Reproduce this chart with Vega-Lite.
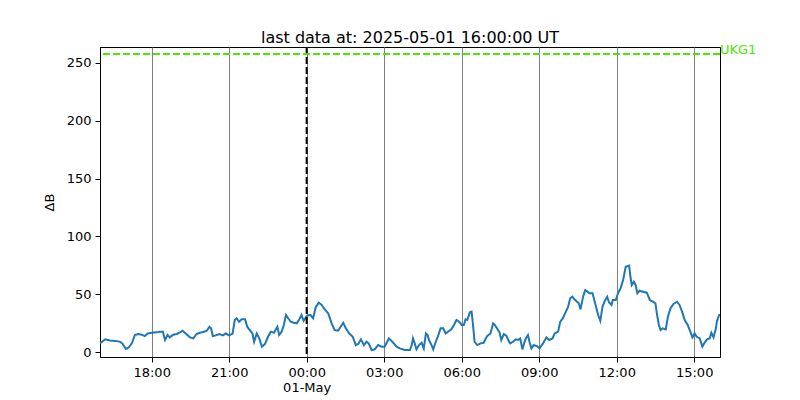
{
  "$schema": "https://vega.github.io/schema/vega-lite/v6.json",
  "width": 620,
  "height": 310,
  "autosize": {"type": "none"},
  "padding": {"left": 100, "top": 47, "right": 80, "bottom": 43},
  "config": {
    "font": "DejaVu Sans",
    "view": {"stroke": "black"},
    "axis": {"domainColor": "black", "tickColor": "black", "labelColor": "black", "titleColor": "black", "labelFontSize": 13, "titleFontSize": 13, "titleFontWeight": "normal", "tickSize": 5, "labelPadding": 4}
  },
  "title": {"text": "last data at: 2025-05-01 16:00:00 UT", "fontSize": 16, "fontWeight": "normal", "color": "black", "offset": 6, "dy": 8},
  "layer": [
    {
      "data": {"values": [
      {"t":"2025-04-30 16:00","v":8},
      {"t":"2025-04-30 16:02","v":8},
      {"t":"2025-04-30 16:12","v":11},
      {"t":"2025-04-30 16:23","v":10},
      {"t":"2025-04-30 16:35","v":9.5},
      {"t":"2025-04-30 16:46","v":9},
      {"t":"2025-04-30 16:52","v":7.5},
      {"t":"2025-04-30 17:00","v":2.6},
      {"t":"2025-04-30 17:06","v":3.7},
      {"t":"2025-04-30 17:14","v":7.5},
      {"t":"2025-04-30 17:21","v":14.7},
      {"t":"2025-04-30 17:29","v":15.6},
      {"t":"2025-04-30 17:37","v":15},
      {"t":"2025-04-30 17:44","v":13.8},
      {"t":"2025-04-30 17:51","v":16},
      {"t":"2025-04-30 18:00","v":16.7},
      {"t":"2025-04-30 18:12","v":17},
      {"t":"2025-04-30 18:19","v":17.6},
      {"t":"2025-04-30 18:26","v":17.6},
      {"t":"2025-04-30 18:31","v":10.4},
      {"t":"2025-04-30 18:37","v":14.7},
      {"t":"2025-04-30 18:42","v":12.7},
      {"t":"2025-04-30 18:50","v":15},
      {"t":"2025-04-30 18:58","v":15.6},
      {"t":"2025-04-30 19:06","v":17},
      {"t":"2025-04-30 19:12","v":18.4},
      {"t":"2025-04-30 19:19","v":16},
      {"t":"2025-04-30 19:29","v":12.7},
      {"t":"2025-04-30 19:37","v":11.8},
      {"t":"2025-04-30 19:44","v":15.6},
      {"t":"2025-04-30 19:52","v":16.7},
      {"t":"2025-04-30 20:00","v":17.3},
      {"t":"2025-04-30 20:08","v":18.4},
      {"t":"2025-04-30 20:14","v":21.9},
      {"t":"2025-04-30 20:18","v":20.5},
      {"t":"2025-04-30 20:22","v":13.8},
      {"t":"2025-04-30 20:29","v":14.4},
      {"t":"2025-04-30 20:37","v":15.6},
      {"t":"2025-04-30 20:45","v":14.4},
      {"t":"2025-04-30 20:52","v":16},
      {"t":"2025-04-30 21:00","v":14.4},
      {"t":"2025-04-30 21:08","v":16},
      {"t":"2025-04-30 21:13","v":27.7},
      {"t":"2025-04-30 21:17","v":29.2},
      {"t":"2025-04-30 21:23","v":26.2},
      {"t":"2025-04-30 21:29","v":28.3},
      {"t":"2025-04-30 21:37","v":28.3},
      {"t":"2025-04-30 21:42","v":21.9},
      {"t":"2025-04-30 21:48","v":19},
      {"t":"2025-04-30 21:54","v":16},
      {"t":"2025-04-30 21:58","v":8.9},
      {"t":"2025-04-30 22:04","v":16},
      {"t":"2025-04-30 22:10","v":11.8},
      {"t":"2025-04-30 22:16","v":4.6},
      {"t":"2025-04-30 22:23","v":6.9},
      {"t":"2025-04-30 22:31","v":13.8},
      {"t":"2025-04-30 22:37","v":17.6},
      {"t":"2025-04-30 22:44","v":16.7},
      {"t":"2025-04-30 22:52","v":21.9},
      {"t":"2025-04-30 22:56","v":14.7},
      {"t":"2025-04-30 23:02","v":17.6},
      {"t":"2025-04-30 23:07","v":23.4},
      {"t":"2025-04-30 23:12","v":32},
      {"t":"2025-04-30 23:17","v":29.2},
      {"t":"2025-04-30 23:23","v":26.2},
      {"t":"2025-04-30 23:30","v":25.3},
      {"t":"2025-04-30 23:37","v":24.8},
      {"t":"2025-04-30 23:43","v":28.3},
      {"t":"2025-04-30 23:48","v":32},
      {"t":"2025-04-30 23:53","v":27},
      {"t":"2025-05-01 00:00","v":31.1},
      {"t":"2025-05-01 00:06","v":32},
      {"t":"2025-05-01 00:09","v":32},
      {"t":"2025-05-01 00:15","v":29.2},
      {"t":"2025-05-01 00:21","v":38.7},
      {"t":"2025-05-01 00:28","v":42.6},
      {"t":"2025-05-01 00:35","v":40.7},
      {"t":"2025-05-01 00:42","v":36.9},
      {"t":"2025-05-01 00:50","v":33.5},
      {"t":"2025-05-01 00:58","v":24.8},
      {"t":"2025-05-01 01:05","v":19},
      {"t":"2025-05-01 01:13","v":18.4},
      {"t":"2025-05-01 01:19","v":21.9},
      {"t":"2025-05-01 01:25","v":25.3},
      {"t":"2025-05-01 01:31","v":20.5},
      {"t":"2025-05-01 01:39","v":16},
      {"t":"2025-05-01 01:47","v":13.2},
      {"t":"2025-05-01 01:54","v":6},
      {"t":"2025-05-01 02:00","v":6.9},
      {"t":"2025-05-01 02:06","v":11},
      {"t":"2025-05-01 02:13","v":6},
      {"t":"2025-05-01 02:19","v":8.9},
      {"t":"2025-05-01 02:24","v":7.5},
      {"t":"2025-05-01 02:31","v":1.7},
      {"t":"2025-05-01 02:38","v":2.3},
      {"t":"2025-05-01 02:46","v":6},
      {"t":"2025-05-01 02:54","v":4.6},
      {"t":"2025-05-01 03:01","v":4.6},
      {"t":"2025-05-01 03:07","v":8.9},
      {"t":"2025-05-01 03:11","v":11.8},
      {"t":"2025-05-01 03:19","v":8.9},
      {"t":"2025-05-01 03:29","v":4.6},
      {"t":"2025-05-01 03:36","v":3.2},
      {"t":"2025-05-01 03:48","v":1.7},
      {"t":"2025-05-01 04:00","v":1.7},
      {"t":"2025-05-01 04:04","v":6},
      {"t":"2025-05-01 04:07","v":11.8},
      {"t":"2025-05-01 04:11","v":7.5},
      {"t":"2025-05-01 04:15","v":2.3},
      {"t":"2025-05-01 04:21","v":6},
      {"t":"2025-05-01 04:27","v":8},
      {"t":"2025-05-01 04:32","v":3.2},
      {"t":"2025-05-01 04:37","v":16},
      {"t":"2025-05-01 04:41","v":14.7},
      {"t":"2025-05-01 04:44","v":10.4},
      {"t":"2025-05-01 04:50","v":6},
      {"t":"2025-05-01 04:54","v":2.3},
      {"t":"2025-05-01 05:00","v":8.9},
      {"t":"2025-05-01 05:05","v":13.8},
      {"t":"2025-05-01 05:11","v":20.5},
      {"t":"2025-05-01 05:17","v":20.5},
      {"t":"2025-05-01 05:23","v":16},
      {"t":"2025-05-01 05:28","v":17.6},
      {"t":"2025-05-01 05:36","v":19.6},
      {"t":"2025-05-01 05:42","v":23.4},
      {"t":"2025-05-01 05:48","v":27.7},
      {"t":"2025-05-01 05:54","v":26.2},
      {"t":"2025-05-01 06:00","v":23.4},
      {"t":"2025-05-01 06:05","v":23.4},
      {"t":"2025-05-01 06:09","v":28.3},
      {"t":"2025-05-01 06:13","v":27.7},
      {"t":"2025-05-01 06:19","v":34.3},
      {"t":"2025-05-01 06:23","v":34.9},
      {"t":"2025-05-01 06:26","v":24.8},
      {"t":"2025-05-01 06:30","v":8.9},
      {"t":"2025-05-01 06:36","v":6},
      {"t":"2025-05-01 06:44","v":7.5},
      {"t":"2025-05-01 06:51","v":8},
      {"t":"2025-05-01 06:59","v":13.8},
      {"t":"2025-05-01 07:07","v":16},
      {"t":"2025-05-01 07:13","v":24.8},
      {"t":"2025-05-01 07:17","v":23.4},
      {"t":"2025-05-01 07:22","v":20.5},
      {"t":"2025-05-01 07:28","v":17},
      {"t":"2025-05-01 07:32","v":10.4},
      {"t":"2025-05-01 07:38","v":15.6},
      {"t":"2025-05-01 07:44","v":14},
      {"t":"2025-05-01 07:50","v":8.9},
      {"t":"2025-05-01 07:53","v":7.5},
      {"t":"2025-05-01 07:59","v":8.9},
      {"t":"2025-05-01 08:06","v":11},
      {"t":"2025-05-01 08:11","v":10.4},
      {"t":"2025-05-01 08:16","v":11.8},
      {"t":"2025-05-01 08:21","v":2.3},
      {"t":"2025-05-01 08:25","v":7.5},
      {"t":"2025-05-01 08:29","v":11.8},
      {"t":"2025-05-01 08:34","v":14.7},
      {"t":"2025-05-01 08:38","v":8},
      {"t":"2025-05-01 08:42","v":3.2},
      {"t":"2025-05-01 08:47","v":6},
      {"t":"2025-05-01 08:54","v":5.2},
      {"t":"2025-05-01 09:01","v":3.2},
      {"t":"2025-05-01 09:09","v":7.5},
      {"t":"2025-05-01 09:17","v":12.7},
      {"t":"2025-05-01 09:23","v":10.4},
      {"t":"2025-05-01 09:31","v":11.8},
      {"t":"2025-05-01 09:36","v":16},
      {"t":"2025-05-01 09:44","v":17.6},
      {"t":"2025-05-01 09:49","v":26.2},
      {"t":"2025-05-01 09:55","v":29.2},
      {"t":"2025-05-01 10:02","v":34.9},
      {"t":"2025-05-01 10:07","v":38.7},
      {"t":"2025-05-01 10:12","v":46.5},
      {"t":"2025-05-01 10:17","v":47.9},
      {"t":"2025-05-01 10:22","v":45.6},
      {"t":"2025-05-01 10:28","v":43.5},
      {"t":"2025-05-01 10:32","v":42.1},
      {"t":"2025-05-01 10:36","v":36.9},
      {"t":"2025-05-01 10:42","v":47.9},
      {"t":"2025-05-01 10:47","v":53.6},
      {"t":"2025-05-01 10:52","v":52.2},
      {"t":"2025-05-01 10:57","v":50.8},
      {"t":"2025-05-01 11:04","v":50.8},
      {"t":"2025-05-01 11:09","v":43.5},
      {"t":"2025-05-01 11:13","v":37.8},
      {"t":"2025-05-01 11:17","v":32},
      {"t":"2025-05-01 11:22","v":27},
      {"t":"2025-05-01 11:27","v":39},
      {"t":"2025-05-01 11:32","v":44},
      {"t":"2025-05-01 11:38","v":47.9},
      {"t":"2025-05-01 11:42","v":43},
      {"t":"2025-05-01 11:48","v":40.7},
      {"t":"2025-05-01 11:51","v":45},
      {"t":"2025-05-01 11:58","v":45},
      {"t":"2025-05-01 12:03","v":50.8},
      {"t":"2025-05-01 12:09","v":55.1},
      {"t":"2025-05-01 12:15","v":62.3},
      {"t":"2025-05-01 12:21","v":73.8},
      {"t":"2025-05-01 12:29","v":74.7},
      {"t":"2025-05-01 12:32","v":65.1},
      {"t":"2025-05-01 12:35","v":58},
      {"t":"2025-05-01 12:40","v":60.8},
      {"t":"2025-05-01 12:44","v":58},
      {"t":"2025-05-01 12:48","v":50.8},
      {"t":"2025-05-01 12:53","v":53},
      {"t":"2025-05-01 13:01","v":52.2},
      {"t":"2025-05-01 13:10","v":51.3},
      {"t":"2025-05-01 13:17","v":45},
      {"t":"2025-05-01 13:24","v":43.5},
      {"t":"2025-05-01 13:30","v":42.1},
      {"t":"2025-05-01 13:34","v":32},
      {"t":"2025-05-01 13:38","v":23.4},
      {"t":"2025-05-01 13:42","v":19},
      {"t":"2025-05-01 13:47","v":20.5},
      {"t":"2025-05-01 13:54","v":19.6},
      {"t":"2025-05-01 13:59","v":30.5},
      {"t":"2025-05-01 14:05","v":37.8},
      {"t":"2025-05-01 14:12","v":41.5},
      {"t":"2025-05-01 14:20","v":43.5},
      {"t":"2025-05-01 14:26","v":40.7},
      {"t":"2025-05-01 14:32","v":34.9},
      {"t":"2025-05-01 14:38","v":27.7},
      {"t":"2025-05-01 14:45","v":23.4},
      {"t":"2025-05-01 14:51","v":17.6},
      {"t":"2025-05-01 14:56","v":12.7},
      {"t":"2025-05-01 15:01","v":16},
      {"t":"2025-05-01 15:06","v":13.2},
      {"t":"2025-05-01 15:13","v":11.8},
      {"t":"2025-05-01 15:19","v":4.6},
      {"t":"2025-05-01 15:24","v":8},
      {"t":"2025-05-01 15:30","v":11},
      {"t":"2025-05-01 15:36","v":11.8},
      {"t":"2025-05-01 15:40","v":16.7},
      {"t":"2025-05-01 15:45","v":12.7},
      {"t":"2025-05-01 15:50","v":19.6},
      {"t":"2025-05-01 15:53","v":26.8},
      {"t":"2025-05-01 15:58","v":32},
      {"t":"2025-05-01 16:00","v":32}
      ]},
      "mark": {"type": "line", "color": "#1f77b4", "strokeWidth": 2},
      "encoding": {
        "x": {
          "field": "t", "type": "temporal",
          "scale": {"domain": [{"year": 2025, "month": 4, "date": 30, "hours": 16}, {"year": 2025, "month": 5, "date": 1, "hours": 16}], "nice": false},
          "axis": {
            "title": null,
            "values": [
              {"year": 2025, "month": 4, "date": 30, "hours": 18},
              {"year": 2025, "month": 4, "date": 30, "hours": 21},
              {"year": 2025, "month": 5, "date": 1, "hours": 0},
              {"year": 2025, "month": 5, "date": 1, "hours": 3},
              {"year": 2025, "month": 5, "date": 1, "hours": 6},
              {"year": 2025, "month": 5, "date": 1, "hours": 9},
              {"year": 2025, "month": 5, "date": 1, "hours": 12},
              {"year": 2025, "month": 5, "date": 1, "hours": 15}
            ],
            "format": "%H:%M",
            "labelExpr": "hours(datum.value) == 0 ? [datum.label, timeFormat(datum.value, '%d-%b')] : datum.label",
            "grid": true, "gridColor": "#808080", "gridWidth": 1
          }
        },
        "y": {
          "field": "v", "type": "quantitative",
          "scale": {"domain": [-4.3, 263.8], "nice": false, "zero": false},
          "axis": {"title": "ΔB", "values": [0, 50, 100, 150, 200, 250], "grid": false, "titlePadding": 10}
        }
      }
    },
    {
      "data": {"values": [{"t": "2025-05-01 00:00"}]},
      "mark": {"type": "rule", "color": "black", "strokeWidth": 2, "strokeDash": [7, 3]},
      "encoding": {"x": {"field": "t", "type": "temporal"}}
    },
    {
      "data": {"values": [{"t": "2025-05-01 16:00", "v": 257.8, "station": "UKG1"}]},
      "mark": {"type": "rule", "color": "#4ce600", "strokeWidth": 2, "strokeDash": [7, 3]},
      "encoding": {"y": {"field": "v", "type": "quantitative"}}
    },
    {
      "data": {"values": [{"t": "2025-05-01 16:00", "v": 257.8, "station": "UKG1"}]},
      "mark": {"type": "text", "color": "#4ce600", "fontSize": 13, "align": "left", "baseline": "bottom", "dx": 0, "dy": 3},
      "encoding": {
        "x": {"field": "t", "type": "temporal"},
        "y": {"field": "v", "type": "quantitative"},
        "text": {"field": "station"}
      }
    }
  ]
}
